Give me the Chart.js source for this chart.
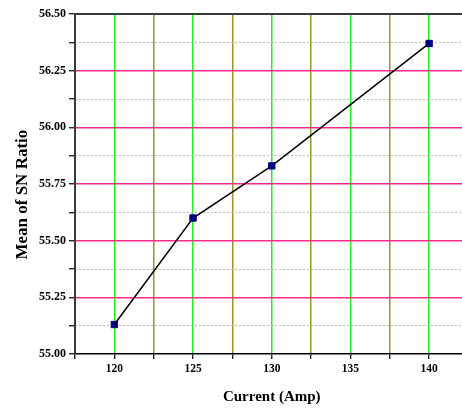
<!DOCTYPE html>
<html><head><meta charset="utf-8">
<script src="https://cdn.jsdelivr.net/npm/chart.js@4/dist/chart.umd.min.js"></script>
<style>
html,body{margin:0;padding:0;overflow:hidden;background:#fff;width:462px;height:409px}
#wrap{width:474px;height:409px}
</style></head>
<body><div id="wrap"><canvas id="c" width="474" height="409"></canvas></div>
<script>
const currents = [120, 125, 130, 140];
const snMeans = [55.13, 55.60, 55.83, 56.37];
const xTicks = [117.5, 120, 122.5, 125, 127.5, 130, 132.5, 135, 137.5, 140, 142.5];
const xLabels = ['', '120', '', '125', '', '130', '', '135', '', '140', ''];
const yTicks = [55.00, 55.125, 55.25, 55.375, 55.50, 55.625, 55.75, 55.875, 56.00, 56.125, 56.25, 56.375, 56.50];
const yLabels = ['55.00', '', '55.25', '', '55.50', '', '55.75', '', '56.00', '', '56.25', '', '56.50'];
const xTitle = 'Current (Amp)';
const yTitle = 'Mean of SN Ratio';

const serif = 'Liberation Serif, Times New Roman, serif';
const isEdge = i => i === 0 || i === yTicks.length - 1;

new Chart(document.getElementById('c'), {
  type: 'line',
  data: {
    datasets: [{
      data: currents.map((x, i) => ({x: x, y: snMeans[i]})),
      borderColor: '#000',
      borderWidth: 1.5,
      pointStyle: 'rect',
      pointRadius: 4.5,
      pointBackgroundColor: '#000080',
      pointBorderColor: '#000080',
      pointBorderWidth: 1,
      tension: 0,
      fill: false,
      xAxisID: 'x',
      yAxisID: 'y'
    }]
  },
  options: {
    responsive: false,
    animation: false,
    devicePixelRatio: 1,
    layout: {padding: {top: 14, right: 0.5, bottom: 0, left: 0}},
    plugins: {legend: {display: false}, tooltip: {enabled: false}},
    scales: {
      x: {
        type: 'linear', position: 'bottom',
        min: 117.5, max: 142.5,
        afterBuildTicks: s => { s.ticks = xTicks.map(v => ({value: v})); },
        afterFit: s => { s.height = 55; },
        ticks: {
          callback: (v, i) => xLabels[i],
          color: '#000', padding: 3, maxRotation: 0, autoSkip: false,
          font: {family: serif, size: 11.5, weight: 'bold'}
        },
        grid: {
          color: c => xLabels[c.index] ? '#1ef01e' : '#9c9430',
          lineWidth: 1.5,
          tickColor: '#000', tickLength: 5, tickWidth: 1.2
        },
        border: {color: '#000', width: 1.5},
        title: {
          display: true, text: xTitle, color: '#000',
          font: {family: serif, size: 15, weight: 'bold'},
          padding: {top: 0, bottom: 3}
        }
      },
      xTop: {
        type: 'linear', position: 'top',
        min: 117.5, max: 142.5,
        ticks: {display: false},
        grid: {drawOnChartArea: false, drawTicks: false},
        border: {color: '#3a3a3a', width: 2}
      },
      y: {
        type: 'linear', position: 'left',
        min: 55.0, max: 56.5,
        afterBuildTicks: s => { s.ticks = yTicks.map(v => ({value: v})); },
        afterFit: s => { s.width = 75; },
        ticks: {
          callback: (v, i) => yLabels[i],
          color: '#000', padding: 3, autoSkip: false,
          font: {family: serif, size: 12, weight: 'bold'}
        },
        grid: {
          color: c => (yLabels[c.index] && !isEdge(c.index)) ? '#ff2a8d' : 'rgba(0,0,0,0)',
          lineWidth: 1.5,
          tickColor: '#000', tickLength: 6, tickWidth: 1.2
        },
        border: {color: '#3a3a3a', width: 2},
        title: {
          display: true, text: yTitle + '\u00a0\u00a0\u00a0\u00a0\u00a0', color: '#000',
          font: {family: serif, size: 17, weight: 'bold'},
          padding: {top: 12, bottom: 0}
        }
      },
      yMinor: {
        type: 'linear', position: 'left',
        min: 55.0, max: 56.5,
        afterBuildTicks: s => { s.ticks = yTicks.map(v => ({value: v})); },
        afterFit: s => { s.width = 0; },
        ticks: {display: false},
        grid: {
          color: c => yLabels[c.index] ? 'rgba(0,0,0,0)' : '#bdbdbd',
          lineWidth: 1, drawTicks: false
        },
        border: {display: false, dash: [2, 2]}
      }
    }
  }
});
</script>
</body></html>
